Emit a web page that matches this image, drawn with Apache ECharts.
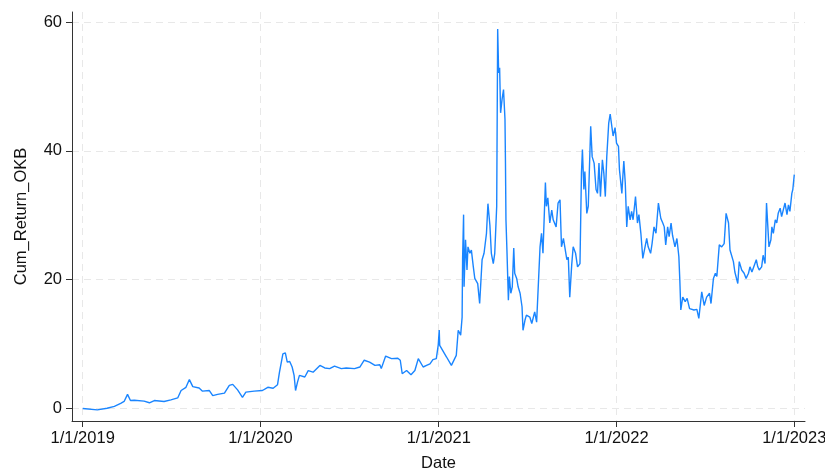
<!DOCTYPE html>
<html>
<head>
<meta charset="utf-8">
<title>Cum_Return_OKB</title>
<script src="https://cdn.jsdelivr.net/npm/echarts@6/dist/echarts.min.js"></script>
<style>
  html, body { margin: 0; padding: 0; background: #ffffff; }
  #chart { width: 825px; height: 470px; }
</style>
</head>
<body>
<div id="chart"></div>
<script>
// Observation dates of the cumulative return series
const dates = [
  '2019-01-01','2019-01-31','2019-02-20','2019-03-07','2019-03-20','2019-03-27','2019-04-03','2019-04-09',
  '2019-04-17','2019-05-07','2019-05-18','2019-05-28','2019-06-17','2019-07-01','2019-07-15','2019-07-22',
  '2019-08-01','2019-08-08','2019-08-15','2019-08-28','2019-09-04','2019-09-18','2019-09-25','2019-10-05',
  '2019-10-19','2019-10-29','2019-11-05','2019-11-15','2019-11-25','2019-12-02','2019-12-19','2020-01-05',
  '2020-01-16','2020-01-27','2020-02-05','2020-02-09','2020-02-16','2020-02-21','2020-02-25','2020-03-01',
  '2020-03-06','2020-03-10','2020-03-13','2020-03-17','2020-03-21','2020-04-01','2020-04-08','2020-04-18',
  '2020-05-02','2020-05-12','2020-05-22','2020-06-01','2020-06-15','2020-06-25','2020-07-12','2020-07-23',
  '2020-08-01','2020-08-12','2020-08-23','2020-09-02','2020-09-05','2020-09-14','2020-09-26','2020-10-09',
  '2020-10-14','2020-10-18','2020-10-27','2020-11-05','2020-11-13','2020-11-20','2020-11-23','2020-11-30',
  '2020-12-07','2020-12-14','2020-12-20','2020-12-27','2020-12-31','2021-01-02','2021-01-03','2021-01-17',
  '2021-01-27','2021-02-06','2021-02-10','2021-02-15','2021-02-18','2021-02-19','2021-02-21','2021-02-22',
  '2021-02-25','2021-02-28','2021-03-02','2021-03-06','2021-03-09','2021-03-13','2021-03-16','2021-03-22',
  '2021-03-26','2021-03-31','2021-04-04','2021-04-09','2021-04-12','2021-04-16','2021-04-19','2021-04-23',
  '2021-04-26','2021-04-30','2021-05-02','2021-05-04','2021-05-06','2021-05-08','2021-05-11','2021-05-14',
  '2021-05-17','2021-05-18','2021-05-19','2021-05-21','2021-05-24','2021-05-26','2021-05-29','2021-06-01',
  '2021-06-04','2021-06-06','2021-06-10','2021-06-13','2021-06-17','2021-06-21','2021-06-23','2021-06-27',
  '2021-06-30','2021-07-04','2021-07-07','2021-07-11','2021-07-17','2021-07-21','2021-07-28','2021-07-31',
  '2021-08-03','2021-08-08','2021-08-10','2021-08-13','2021-08-17','2021-08-21','2021-08-24','2021-08-30',
  '2021-09-03','2021-09-07','2021-09-10','2021-09-14','2021-09-17','2021-09-21','2021-09-24','2021-09-27',
  '2021-10-01','2021-10-04','2021-10-09','2021-10-13','2021-10-18','2021-10-21','2021-10-23','2021-10-26',
  '2021-10-28','2021-11-01','2021-11-04','2021-11-09','2021-11-12','2021-11-16','2021-11-20','2021-11-23',
  '2021-11-26','2021-11-29','2021-12-03','2021-12-06','2021-12-09','2021-12-12','2021-12-16','2021-12-19',
  '2021-12-22','2021-12-25','2021-12-29','2022-01-01','2022-01-05','2022-01-07','2022-01-12','2022-01-14',
  '2022-01-16','2022-01-19','2022-01-22','2022-01-25','2022-01-29','2022-02-01','2022-02-04','2022-02-09',
  '2022-02-13','2022-02-16','2022-02-20','2022-02-24','2022-02-28','2022-03-04','2022-03-07','2022-03-12',
  '2022-03-15','2022-03-19','2022-03-23','2022-03-28','2022-04-02','2022-04-06','2022-04-09','2022-04-12',
  '2022-04-16','2022-04-19','2022-04-23','2022-04-26','2022-05-01','2022-05-05','2022-05-09','2022-05-11',
  '2022-05-13','2022-05-17','2022-05-22','2022-05-26','2022-05-31','2022-06-04','2022-06-09','2022-06-15',
  '2022-06-19','2022-06-25','2022-06-30','2022-07-05','2022-07-11','2022-07-14','2022-07-19','2022-07-23',
  '2022-07-26','2022-07-31','2022-08-05','2022-08-10','2022-08-14','2022-08-19','2022-08-22','2022-08-26',
  '2022-08-29','2022-09-01','2022-09-05','2022-09-07','2022-09-10','2022-09-15','2022-09-20','2022-09-24',
  '2022-09-29','2022-10-02','2022-10-06','2022-10-10','2022-10-15','2022-10-18','2022-10-21','2022-10-26',
  '2022-10-29','2022-11-02','2022-11-05','2022-11-07','2022-11-10','2022-11-14','2022-11-16','2022-11-19',
  '2022-11-23','2022-11-26','2022-11-29','2022-12-03','2022-12-06','2022-12-10','2022-12-13','2022-12-17',
  '2022-12-20','2022-12-23','2022-12-27','2022-12-29','2023-01-01'
];

// Cum_Return_OKB on each of the dates above
const cumReturn = [
  0.0, -0.2, 0.05, 0.35, 0.8, 1.1, 2.2, 1.25,
  1.3, 1.15, 0.9, 1.25, 1.1, 1.35, 1.65, 2.8,
  3.3, 4.5, 3.4, 3.2, 2.7, 2.8, 2.0, 2.2,
  2.4, 3.6, 3.75, 2.9, 1.75, 2.55, 2.7, 2.8,
  3.3, 3.15, 3.7, 5.65, 8.5, 8.65, 7.2, 7.3,
  6.45, 5.15, 2.8, 4.1, 5.15, 4.9, 5.9, 5.65,
  6.7, 6.3, 6.2, 6.6, 6.2, 6.3, 6.2, 6.45,
  7.5, 7.2, 6.7, 6.8, 6.2, 8.15, 7.75, 7.8,
  7.5, 5.4, 5.9, 5.25, 5.9, 7.75, 7.85, 6.45,
  6.7, 6.95, 7.6, 7.75, 9.9, 12.2, 9.8, 8.0,
  6.7, 8.25, 12.15, 11.4, 14.2, 23.3, 30.1, 18.9,
  26.2, 21.5, 25.1, 24.1, 24.6, 22.0, 20.2, 19.4,
  16.3, 23.1, 24.1, 27.2, 31.8, 28.5, 24.1, 22.5,
  24.1, 31.4, 58.9, 52.1, 52.9, 45.9, 48.0, 49.5,
  44.9, 38.1, 29.3, 24.6, 16.8, 20.5, 17.9, 18.9,
  24.9, 21.0, 20.2, 18.9, 17.9, 15.8, 12.15, 13.7,
  14.5, 14.75, 14.2, 13.2, 15.0, 13.4, 25.1, 27.2,
  24.1, 35.1, 31.4, 32.7, 28.8, 30.8, 29.3, 28.2,
  31.9, 32.4, 25.1, 26.4, 26.7, 23.1, 23.5, 17.3,
  22.3, 25.1, 24.1, 22.0, 22.5, 36.5, 40.2, 34.0,
  36.8, 30.3, 31.4, 43.8, 39.1, 38.1, 34.0, 33.4,
  38.1, 32.9, 38.6, 36.5, 32.9, 39.1, 44.3, 45.7,
  45.4, 42.3, 43.6, 41.2, 40.7, 37.1, 33.4, 36.0,
  38.4, 35.0, 28.2, 31.4, 29.3, 30.6, 29.3, 32.9,
  28.8, 30.1, 27.2, 23.3, 23.6, 26.4, 25.1, 24.1,
  25.6, 28.2, 27.2, 31.9, 29.5, 28.8, 28.2, 25.4,
  28.2, 26.7, 28.8, 26.9, 25.1, 26.4, 23.6, 19.9,
  15.3, 17.3, 16.6, 17.1, 15.5, 15.5, 15.3, 15.4,
  14.0, 18.1, 16.0, 17.3, 17.9, 16.3, 20.2, 21.0,
  20.5, 25.4, 25.1, 25.6, 30.3, 28.8, 24.6, 24.3,
  22.8, 21.2, 21.0, 19.4, 22.8, 21.5, 21.0, 20.2,
  21.0, 22.0, 21.2, 21.5, 23.1, 22.0, 21.5, 22.0,
  23.8, 22.5, 31.9, 32.1, 25.1, 26.2, 28.2, 27.2,
  29.3, 28.8, 30.3, 31.1, 29.8, 30.1, 31.9, 30.1,
  31.6, 30.6, 33.4, 34.0, 36.3
];

// Axis ticks
const yTicks = [0, 20, 40, 60];
const xTickDates = ['2019-01-01', '2020-01-01', '2021-01-01', '2022-01-01', '2023-01-01'];

// Dates become UTC timestamps on a numeric x axis
const toTime = d => Date.parse(d + 'T00:00:00Z');
const xTickTimes = xTickDates.map(toTime);
const seriesData = dates.map((d, i) => [toTime(d), cumReturn[i]]);

const FONT = '"Liberation Sans", Arial, Helvetica, sans-serif';
const gridLine = { show: true, lineStyle: { color: '#e8e8e8', width: 1, type: [7, 5] } };

const chart = echarts.init(document.getElementById('chart'), null, { renderer: 'canvas' });
chart.setOption({
  animation: false,
  backgroundColor: '#ffffff',
  grid: { left: 72, right: 20, top: 12, bottom: 49, containLabel: false, outerBoundsMode: 'none' },
  xAxis: {
    type: 'value',
    min: toTime('2018-12-10'),
    max: toTime('2023-01-23'),
    name: 'Date',
    nameLocation: 'middle',
    nameGap: 34,
    nameTextStyle: { fontFamily: FONT, fontSize: 16.5, color: '#111' },
    axisLine: { show: true, onZero: false, lineStyle: { color: '#333', width: 1 } },
    axisTick: { show: true, length: 6, customValues: xTickTimes, lineStyle: { color: '#333' } },
    axisLabel: {
      customValues: xTickTimes,
      margin: 9,
      fontFamily: FONT, fontSize: 16.5, color: '#111',
      hideOverlap: false,
      formatter: v => {
        const d = new Date(v);
        return (d.getUTCMonth() + 1) + '/' + d.getUTCDate() + '/' + d.getUTCFullYear();
      }
    },
    splitLine: gridLine
  },
  yAxis: {
    type: 'value',
    min: -1.93,
    max: 61.55,
    name: 'Cum_Return_OKB',
    nameLocation: 'middle',
    nameGap: 42,
    nameRotate: 90,
    nameTextStyle: { fontFamily: FONT, fontSize: 16.5, color: '#111' },
    axisLine: { show: true, onZero: false, lineStyle: { color: '#333', width: 1 } },
    axisTick: { show: true, length: 6, customValues: yTicks, lineStyle: { color: '#333' } },
    axisLabel: {
      customValues: yTicks,
      margin: 10,
      fontFamily: FONT, fontSize: 16.5, color: '#111'
    },
    splitLine: gridLine
  },
  series: [{
    name: 'Cum_Return_OKB',
    type: 'line',
    data: seriesData,
    showSymbol: false,
    symbol: 'none',
    lineStyle: { color: '#1a85ff', width: 1.4 },
    itemStyle: { color: '#1a85ff' },
    z: 3
  }]
});
</script>
</body>
</html>
